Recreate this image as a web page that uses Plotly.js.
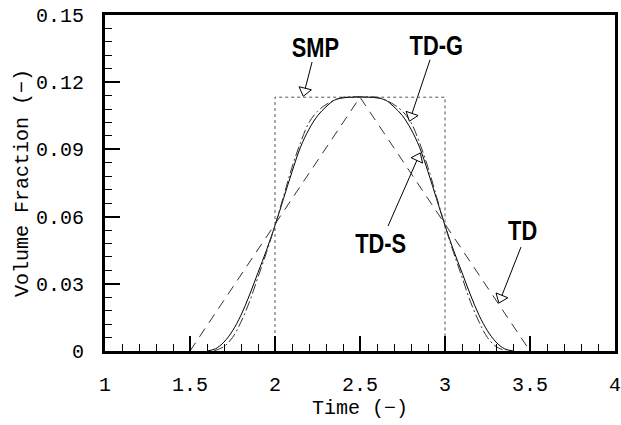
<!DOCTYPE html>
<html>
<head>
<meta charset="utf-8">
<script src="https://cdn.plot.ly/plotly-3.0.1.min.js"></script>
<style>html,body{margin:0;padding:0;background:#fff;}#chart{width:621px;height:425px;}</style>
</head>
<body>
<div id="chart"></div>
<script>
// SMP: rectangular pulse
var smpX = [2.0, 2.0, 3.0, 3.0];
var smpY = [0.0, 0.1133, 0.1133, 0.0];
// TD: triangular
var tdX = [1.5, 2.5, 3.5];
var tdY = [0.0, 0.1133, 0.0];
// TD-S: solid smooth curve
var tdsX = [1.6,1.65,1.7,1.75,1.8,1.85,1.9,1.95,2.0,2.05,2.1,2.15,2.2,2.25,2.3,2.35,2.4,2.45,2.5,
            2.55,2.6,2.65,2.7,2.75,2.8,2.85,2.9,2.95,3.0,3.05,3.1,3.15,3.2,3.25,3.3,3.35,3.4];
var tdsY = [0,0.001,0.004,0.009,0.016,0.025,0.035,0.045,0.056,0.068,0.080,0.091,0.099,0.105,0.109,0.112,0.113,0.1133,0.1134,
            0.1133,0.113,0.112,0.109,0.105,0.099,0.091,0.080,0.068,0.056,0.045,0.035,0.025,0.016,0.009,0.004,0.001,0];
// TD-G: dash-dot curve
var tdgX = [1.64,1.7,1.75,1.8,1.85,1.9,1.95,2.0,2.05,2.1,2.15,2.2,2.25,2.3,2.35,2.4,2.45,2.5,
            2.55,2.6,2.65,2.7,2.75,2.8,2.85,2.9,2.95,3.0,3.05,3.1,3.15,3.2,3.25,3.3,3.36];
var tdgY = [0,0.002,0.006,0.013,0.022,0.033,0.044,0.056,0.069,0.082,0.093,0.102,0.107,0.110,0.112,0.1133,0.1135,0.1135,
            0.1135,0.1133,0.112,0.110,0.107,0.102,0.093,0.082,0.069,0.056,0.044,0.033,0.022,0.013,0.006,0.002,0];
var xTicks = [1, 1.5, 2, 2.5, 3, 3.5, 4];
var yTicks = [0, 0.03, 0.06, 0.09, 0.12, 0.15];

// label annotations: text, text pos, arrow tail, head center, head angle
var labels = ['SMP', 'TD-G', 'TD-S', 'TD'];
var labelX = [2.241, 2.947, 2.618, 3.453];
var labelY = [0.1357, 0.1366, 0.0482, 0.0540];
var tailX = [2.218, 2.912, 2.665, 3.447];
var tailY = [0.1290, 0.1300, 0.0558, 0.0464];
var headX = [2.174, 2.801, 2.841, 3.329];
var headY = [0.1161, 0.1049, 0.0862, 0.0237];
var headAng = [194, 199, 25, 202];

var mono = 'Liberation Mono, DejaVu Sans Mono, monospace';
var boldSans = 'Liberation Sans, Arial, sans-serif';

var traces = [
  {x: smpX, y: smpY, mode: 'lines', line: {color: '#555', width: 1, dash: 'dot'}, hoverinfo: 'skip'},
  {x: tdX, y: tdY, mode: 'lines', line: {color: '#333', width: 1, dash: '10px,7px'}, hoverinfo: 'skip'},
  {x: tdsX, y: tdsY, mode: 'lines', line: {color: '#000', width: 1, shape: 'spline'}, hoverinfo: 'skip'},
  {x: tdgX, y: tdgY, mode: 'lines', line: {color: '#333', width: 1, dash: '10px,3px,2px,3px', shape: 'spline'}, hoverinfo: 'skip'},
  {x: headX, y: headY, mode: 'markers', hoverinfo: 'skip',
   marker: {symbol: 'triangle-up', size: 11, angle: headAng, color: '#fff', line: {color: '#000', width: 1}}}
];

var shapes = [];
var annotations = [];
for (var i = 0; i < labels.length; i++) {
  shapes.push({type: 'line', xref: 'x', yref: 'y', x0: tailX[i], y0: tailY[i], x1: headX[i], y1: headY[i],
               line: {color: '#000', width: 1}, layer: 'below'});
  annotations.push({x: labelX[i], y: labelY[i], xref: 'x', yref: 'y', text: labels[i], showarrow: false,
                    font: {family: boldSans, size: 28, color: '#000', weight: 'bold'}});
}

var layout = {
  width: 621, height: 425,
  margin: {l: 105, r: 6, t: 15, b: 74},
  paper_bgcolor: '#fff', plot_bgcolor: '#fff',
  showlegend: false,
  font: {family: mono, color: '#000'},
  xaxis: {
    range: [1, 4], tickvals: xTicks, showgrid: false, zeroline: false,
    showline: true, linecolor: '#000', linewidth: 3, mirror: true,
    ticks: 'inside', ticklen: 15, tickwidth: 2, tickcolor: '#000',
    minor: {ticks: 'inside', ticklen: 7, tickwidth: 1, dtick: 0.1, tickcolor: '#000', showgrid: false},
    tickfont: {family: mono, size: 20}, ticklabelstandoff: 13, ticklabeloverflow: 'allow',
    title: {text: 'Time (−)', font: {family: mono, size: 20}, standoff: 4}
  },
  yaxis: {
    range: [0, 0.15], tickvals: yTicks, showgrid: false, zeroline: false,
    showline: true, linecolor: '#000', linewidth: 3, mirror: true,
    ticks: 'inside', ticklen: 15, tickwidth: 2, tickcolor: '#000',
    minor: {ticks: 'inside', ticklen: 7, tickwidth: 1, dtick: 0.006, tickcolor: '#000', showgrid: false},
    tickfont: {family: mono, size: 20}, ticklabelstandoff: 14, ticklabeloverflow: 'allow',
    title: {text: 'Volume Fraction (−)', font: {family: mono, size: 20}, standoff: 2}
  },
  shapes: shapes,
  annotations: annotations
};

Plotly.newPlot('chart', traces, layout, {staticPlot: true, displayModeBar: false}).then(function (gd) {
  // condense the bold label text horizontally, like the narrow bold face in the reference
  var texts = gd.querySelectorAll('.annotation-text-g text');
  texts.forEach(function (t) {
    t.style.transformBox = 'fill-box';
    t.style.transformOrigin = 'center';
    t.style.transform = 'scaleX(0.78)';
  });
});
</script>
</body>
</html>
